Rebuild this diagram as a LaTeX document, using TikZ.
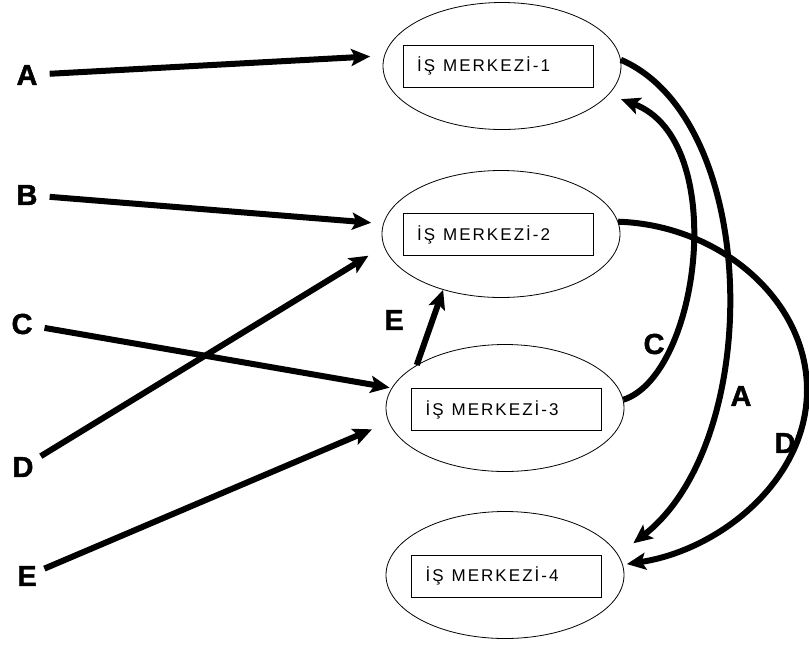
\documentclass[tikz,border=0pt]{standalone}
\usepackage{fontspec}
\setmainfont{Liberation Sans}
\usetikzlibrary{shapes.geometric,arrows.meta}

\begin{document}
\begin{tikzpicture}[x=1pt,y=-1pt,
  merkez/.style={draw,ellipse,line width=0.8pt,minimum width=238pt,minimum height=127pt},
  kutu/.style={draw,line width=0.9pt,minimum height=42pt,text width=162pt,inner xsep=14pt,align=left,
    font=\fontsize{17}{19}\selectfont\addfontfeatures{LetterSpace=12}},
  harf/.style={font=\fontsize{29}{31}\selectfont\bfseries\addfontfeatures{FakeBold=1.5},inner sep=2pt},
  ok/.style={line width=6pt,-{Stealth[length=19pt,width=17pt,inset=4pt]}}]
\path[fill=white,use as bounding box] (0,0) rectangle (809,649);
\node[merkez] (m1) at (502,66) {};
\node[merkez] (m2) at (501,234) {};
\node[merkez] (m3) at (505,408) {};
\node[merkez] (m4) at (505,575) {};
\node[kutu] (k1) at (498,66) {İŞ\hspace{8pt}MERKEZİ-1};
\node[kutu] (k2) at (498,234.5) {İŞ\hspace{8pt}MERKEZİ-2};
\node[kutu] (k3) at (506.5,409.5) {İŞ\hspace{8pt}MERKEZİ-3};
\node[kutu] (k4) at (506.5,576) {İŞ\hspace{8pt}MERKEZİ-4};
\node[harf] (a) at (27,75) {A};
\node[harf] (b) at (27,195) {B};
\node[harf] (c) at (22,324) {C};
\node[harf] (d) at (23,467) {D};
\node[harf] (e) at (27,576) {E};
\draw[ok,shorten <=10pt,shorten >=14pt] (a) -- (m1.175);
\draw[ok,shorten <=10pt,shorten >=12pt] (b) -- (m2.175);
\draw[ok,shorten <=10pt,shorten >=2pt] (c) -- (m3.170);
\draw[ok,shorten <=6pt,shorten >=18pt] (d) -- (m2.186);
\draw[ok,shorten <=6pt,shorten >=18pt] (e) -- (m3.187);
\draw[ok] (m3.154) -- (m2.224);
\node[harf] (e2) at (394,320) {E};
% sag taraftaki egriler
\draw[ok,shorten >=19pt] (m1.3) .. controls (760,120) and (765,440) .. (m4.10);
\draw[ok,shorten >=13pt] (m3.4) .. controls (700,375) and (730,140) .. (m1.345);
\draw[ok,shorten >=4pt] (m2.6) .. controls (720,225) and (807,300) .. (807,390)
  .. controls (807,480) and (720,550) .. (m4.5);
\node[harf] (a2) at (741,396) {A};
\node[harf] (c2) at (654,344) {C};
\node[harf] (d2) at (785,443) {D};
\end{tikzpicture}
\end{document}
